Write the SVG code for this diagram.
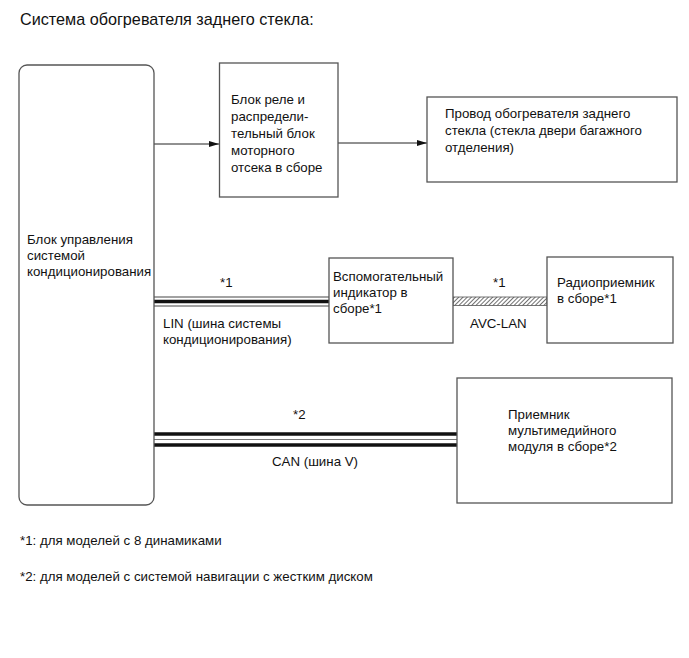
<svg xmlns="http://www.w3.org/2000/svg" width="689" height="658" viewBox="0 0 689 658">
<style>
.box{fill:#fff;stroke:#555;stroke-width:1.3}
.t{font-family:"Liberation Sans",Arial,sans-serif;font-size:13.3px;fill:#111}
.title{font-family:"Liberation Sans",Arial,sans-serif;font-size:16.2px;fill:#111}
.ln{stroke:#222;stroke-width:1;fill:none}
</style>
<defs>
<marker id="arr" markerWidth="10" markerHeight="8" refX="10" refY="4" orient="auto" markerUnits="userSpaceOnUse">
<path d="M0,1 L10,4 L0,7 Z" fill="#111"/>
</marker>
<pattern id="hatch" width="3" height="3" patternUnits="userSpaceOnUse" patternTransform="rotate(45)">
<rect width="3" height="3" fill="#fff"/>
<line x1="0" y1="0" x2="0" y2="3" stroke="#333" stroke-width="1.4"/>
</pattern>
</defs>
<rect width="689" height="658" fill="#fff"/>
<text class="title" x="20" y="25">Система обогревателя заднего стекла:</text>

<g id="connectors">
<line class="ln" x1="154" y1="144" x2="219" y2="144" marker-end="url(#arr)"/>
<line class="ln" x1="338" y1="143" x2="427" y2="143" marker-end="url(#arr)"/>
<line x1="154" y1="297" x2="329" y2="297" stroke="#444" stroke-width="1"/>
<line x1="154" y1="301.5" x2="329" y2="301.5" stroke="#111" stroke-width="3.5"/>
<line x1="154" y1="306" x2="329" y2="306" stroke="#444" stroke-width="1"/>
<rect x="453" y="297" width="94" height="8.5" fill="url(#hatch)" stroke="#555" stroke-width="0.8"/>
<line x1="154" y1="434" x2="457" y2="434" stroke="#111" stroke-width="3.5"/>
<line x1="154" y1="439.5" x2="457" y2="439.5" stroke="#777" stroke-width="1"/>
<line x1="154" y1="445" x2="457" y2="445" stroke="#111" stroke-width="3.5"/>
<text class="t" x="220" y="287">*1</text>
<text class="t" x="163" y="328">LIN (шина системы</text>
<text class="t" x="163" y="344">кондиционирования)</text>
<text class="t" x="493" y="287">*1</text>
<text class="t" x="470" y="328">AVC-LAN</text>
<text class="t" x="293" y="419">*2</text>
<text class="t" x="272" y="466">CAN (шина V)</text>
</g>

<g id="climate-ecu">
<rect class="box" x="19" y="65" width="135" height="440" rx="8"/>
<text class="t" x="27" y="244">Блок управления</text>
<text class="t" x="27" y="260">системой</text>
<text class="t" x="27" y="276">кондиционирования</text>
</g>

<g id="relay-block">
<rect class="box" x="219.5" y="63" width="118.5" height="134"/>
<text class="t" x="231" y="104">Блок реле и</text>
<text class="t" x="231" y="121">распредели-</text>
<text class="t" x="231" y="138">тельный блок</text>
<text class="t" x="231" y="155">моторного</text>
<text class="t" x="231" y="172">отсека в сборе</text>
</g>

<g id="defogger-wire">
<rect class="box" x="427" y="97" width="250" height="85"/>
<text class="t" x="445" y="118">Провод обогревателя заднего</text>
<text class="t" x="445" y="135">стекла (стекла двери багажного</text>
<text class="t" x="445" y="152">отделения)</text>
</g>

<g id="sub-indicator">
<rect class="box" x="329" y="258" width="124" height="85"/>
<text class="t" x="333" y="281">Вспомогательный</text>
<text class="t" x="333" y="297">индикатор в</text>
<text class="t" x="333" y="313">сборе*1</text>
</g>

<g id="radio">
<rect class="box" x="547" y="257" width="126" height="86"/>
<text class="t" x="557" y="287">Радиоприемник</text>
<text class="t" x="557" y="303">в сборе*1</text>
</g>

<g id="multimedia">
<rect class="box" x="457" y="378" width="215" height="125"/>
<text class="t" x="508" y="419">Приемник</text>
<text class="t" x="508" y="435">мультимедийного</text>
<text class="t" x="508" y="451">модуля в сборе*2</text>
</g>

<text class="t" x="20" y="545">*1: для моделей с 8 динамиками</text>
<text class="t" x="20" y="581">*2: для моделей с системой навигации с жестким диском</text>
</svg>
